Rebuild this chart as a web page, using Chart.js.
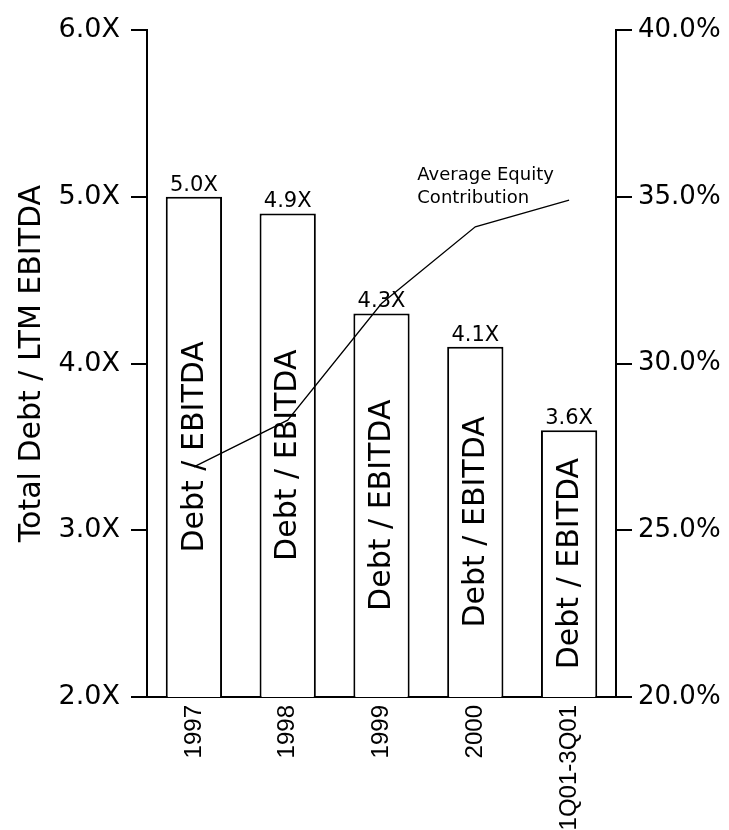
<!DOCTYPE html>
<html>
<head>
<meta charset="utf-8">
<title>Debt / EBITDA and Average Equity Contribution</title>
<script src="https://cdn.jsdelivr.net/npm/chart.js@4.4.1/dist/chart.umd.min.js"></script>
<style>
  html, body { margin: 0; padding: 0; background: #fff; }
  canvas { display: block; }
</style>
</head>
<body>
<canvas id="chart" width="729" height="830"></canvas>
<script>
// Periods on the category axis
const categories = ['1997', '1998', '1999', '2000', '1Q01-3Q01'];
// Total debt / LTM EBITDA multiple (bars, left axis)
const debtToEbitda = [5.0, 4.9, 4.3, 4.1, 3.6];
// Average equity contribution, percent (line, right axis)
const equityContribution = [26.9, 28.3, 31.8, 34.1, 34.9];
// Axis ticks
const leftTicks = [2, 3, 4, 5, 6];
const rightTicks = [20, 25, 30, 35, 40];
// Text inside the bars and beside the line
const barText = 'Debt / EBITDA';
const lineNote = ['Average Equity', 'Contribution'];

const INK = '#000';
const SANS = '"DejaVu Sans", Verdana, sans-serif';

// Writes the multiple above each bar and the rotated caption inside it,
// and labels the equity line.
const barCaptions = {
  id: 'barCaptions',
  afterDatasetDraw(chart, args) {
    if (args.index !== 0) return;
    const ctx = chart.ctx;
    const floor = chart.chartArea.bottom;
    ctx.save();
    ctx.fillStyle = INK;
    args.meta.data.forEach((bar, i) => {
      const { x, y, base } = bar.getProps(['x', 'y', 'base'], true);
      // bars start at zero, below the visible axis minimum
      const bottom = Math.min(base, floor);
      ctx.font = '21px ' + SANS;
      ctx.textAlign = 'center';
      ctx.textBaseline = 'alphabetic';
      ctx.fillText(debtToEbitda[i].toFixed(1) + 'X', x, y - 6);

      ctx.save();
      ctx.translate(x + 1, (y + bottom) / 2);
      ctx.rotate(-Math.PI / 2);
      ctx.font = '30px ' + SANS;
      ctx.textAlign = 'center';
      ctx.textBaseline = 'middle';
      ctx.fillText(barText, 0, 0);
      ctx.restore();
    });
    ctx.restore();
  },
  afterDatasetsDraw(chart) {
    const pt = chart.getDatasetMeta(1).data[3];
    if (!pt) return;
    const ctx = chart.ctx;
    ctx.save();
    ctx.fillStyle = INK;
    ctx.font = '18px ' + SANS;
    ctx.textAlign = 'left';
    ctx.textBaseline = 'alphabetic';
    ctx.fillText(lineNote[0], pt.x - 58, pt.y - 47);
    ctx.fillText(lineNote[1], pt.x - 58, pt.y - 24);
    ctx.restore();
  }
};

new Chart(document.getElementById('chart'), {
  type: 'bar',
  data: {
    labels: categories,
    datasets: [
      {
        type: 'bar',
        data: debtToEbitda,
        yAxisID: 'y',
        backgroundColor: '#fff',
        borderColor: INK,
        borderWidth: 2,
        borderSkipped: false,
        barPercentage: 0.6,
        categoryPercentage: 1.0,
        order: 1
      },
      {
        type: 'line',
        data: equityContribution,
        yAxisID: 'y1',
        borderColor: INK,
        borderWidth: 1.3,
        pointRadius: 0,
        tension: 0,
        fill: false,
        order: 0
      }
    ]
  },
  options: {
    responsive: false,
    animation: false,
    devicePixelRatio: 1,
    layout: { padding: { top: 30, left: 0, right: 0, bottom: 0 } },
    plugins: {
      legend: { display: false },
      tooltip: { enabled: false }
    },
    scales: {
      x: {
        grid: { display: false },
        border: { display: true, color: INK, width: 2 },
        ticks: {
          color: INK,
          font: { family: '"Liberation Sans", Arial, sans-serif', size: 24 },
          maxRotation: 90,
          minRotation: 90,
          autoSkip: false,
          padding: 0
        },
        afterFit(scale) { scale.height = 133; }
      },
      y: {
        position: 'left',
        min: leftTicks[0],
        max: leftTicks[leftTicks.length - 1],
        afterBuildTicks(scale) { scale.ticks = leftTicks.map(v => ({ value: v })); },
        grid: {
          display: true,
          drawOnChartArea: false,
          drawTicks: true,
          tickLength: 16,
          color: INK,
          lineWidth: 2
        },
        border: { display: true, color: INK, width: 2 },
        ticks: {
          color: INK,
          font: { family: SANS, size: 27 },
          padding: 11,
          callback: v => Number(v).toFixed(1) + 'X'
        },
        title: {
          display: true,
          text: 'Total Debt / LTM EBITDA',
          color: INK,
          font: { family: SANS, size: 30 },
          padding: { top: 14, bottom: 0 }
        },
        afterFit(scale) { scale.width = 147; }
      },
      y1: {
        position: 'right',
        min: rightTicks[0],
        max: rightTicks[rightTicks.length - 1],
        afterBuildTicks(scale) { scale.ticks = rightTicks.map(v => ({ value: v })); },
        grid: {
          display: true,
          drawOnChartArea: false,
          drawTicks: true,
          tickLength: 16,
          color: INK,
          lineWidth: 2
        },
        border: { display: true, color: INK, width: 2 },
        ticks: {
          color: INK,
          font: { family: SANS, size: 26 },
          padding: 6,
          callback: v => Number(v).toFixed(1) + '%'
        },
        afterFit(scale) { scale.width = 113; }
      }
    }
  },
  plugins: [barCaptions]
});
</script>
</body>
</html>
